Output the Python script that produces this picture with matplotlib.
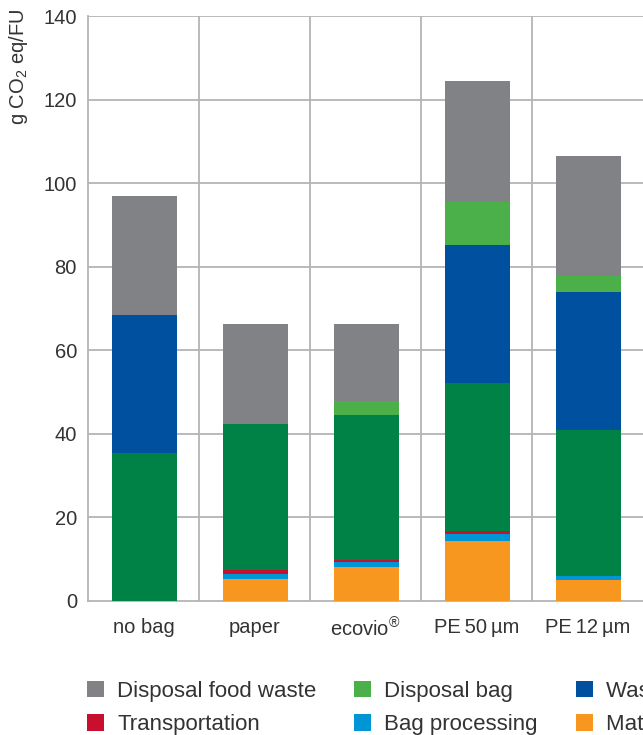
import numpy as np
import matplotlib.pyplot as plt

plt.rcParams['font.family'] = ['Liberation Sans', 'DejaVu Sans']
plt.rcParams['mathtext.fontset'] = 'custom'
plt.rcParams['mathtext.rm'] = 'Liberation Sans'

# Data (g CO2 eq per FU), stacked bottom -> top
cats = ['no bag', 'paper', 'ecovio$^{®}$', 'PE\u200950\u2009µm', 'PE\u200912\u2009µm']
material = [0.0, 5.3, 8.1, 14.4, 5.0]
bag_proc = [0.0, 1.2, 1.2, 1.6, 1.0]
transport = [0.0, 0.9, 0.5, 0.8, 0.0]
food = [35.4, 35.0, 34.7, 35.4, 34.9]
waste_coll = [33.0, 0.0, 0.0, 33.0, 33.0]
disp_bag = [0.0, 0.0, 3.4, 10.3, 3.9]
disp_food = [28.5, 23.9, 18.4, 28.9, 28.7]

series = [
    ('Material production', material, '#f7971f'),
    ('Bag processing', bag_proc, '#0096d6'),
    ('Transportation', transport, '#c8102e'),
    ('Food production', food, '#008145'),
    ('Waste collection', waste_coll, '#0050a0'),
    ('Disposal bag', disp_bag, '#4bb04a'),
    ('Disposal food waste', disp_food, '#808285'),
]

fig = plt.figure(figsize=(6.43, 7.35), dpi=100)
ax = fig.add_axes([88/643, (735-601)/735, 1 - 88/643, 585/735])

x = np.arange(len(cats))
bottom = np.zeros(len(cats))
bars = {}
for name, vals, col in series:
    bars[name] = ax.bar(x + 0.01, vals, 0.585, bottom=bottom, color=col, zorder=3)
    bottom += np.array(vals)

ax.set_xlim(-0.5, 4.5)
ax.set_ylim(0, 140)
ax.set_yticks(np.arange(0, 141, 20))
ax.set_xticks(x)
ax.set_xticklabels(cats)
ax.tick_params(length=0, labelsize=14.5, colors='#333333')
ax.tick_params(axis='x', pad=12)
ax.tick_params(axis='y', pad=8)

gc = '#b4b4b4'
for yv in np.arange(20, 141, 20):
    ax.axhline(yv, color=gc, lw=1.3, zorder=1)
for xv in np.arange(0.5, 4.5, 1):
    ax.axvline(xv, color=gc, lw=1.3, zorder=1)
for s in ['top', 'right']:
    ax.spines[s].set_visible(False)
for s in ['left', 'bottom']:
    ax.spines[s].set_color(gc)
    ax.spines[s].set_linewidth(1.3)

fig.text(0.029, 0.988, 'g CO$_2$ eq/FU', rotation=90, va='top', ha='center',
         fontsize=14.5, color='#333333')

order = ['Disposal food waste', 'Transportation', 'Disposal bag', 'Bag processing',
         'Waste collection', 'Material production', 'Food production']
handles = [bars[n][0] for n in order]
fig.legend(handles, order, loc='upper left', bbox_to_anchor=(87/643, 1 - 681/735),
           ncol=4, frameon=False, fontsize=16, handlelength=0.76, handleheight=0.76,
           handletextpad=0.6, columnspacing=1.7, labelspacing=0.55,
           borderpad=0, borderaxespad=0, labelcolor='#333333')

fig.savefig('out.png', dpi=100)
